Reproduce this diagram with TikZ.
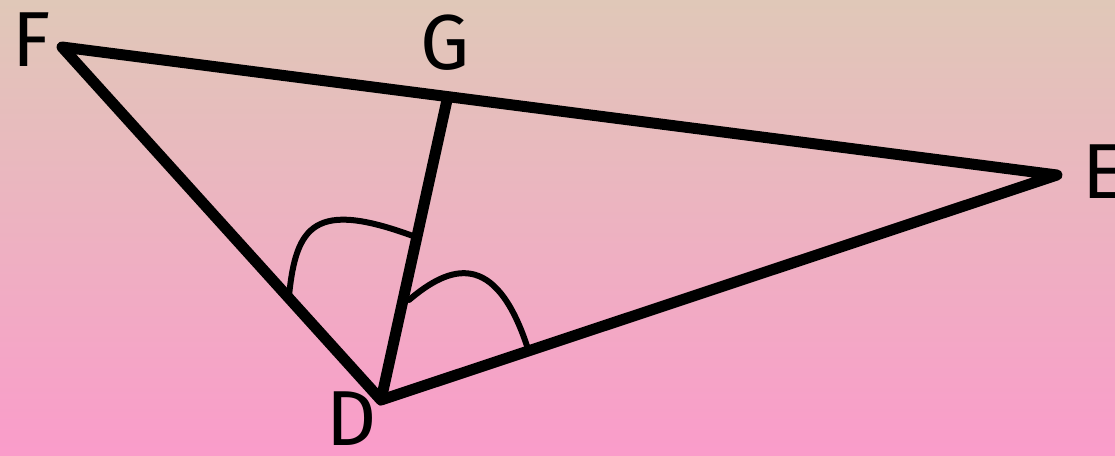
\documentclass[tikz,border=0pt]{standalone}
\usepackage{fontspec}
\setmainfont{Fira Sans}
\begin{document}
\begin{tikzpicture}[x=1pt,y=-1pt,
  side/.style={line width=11pt,line cap=round,line join=round},
  anglemark/.style={line width=6pt,line cap=round},
  lbl/.style={font=\fontsize{78}{78}\selectfont,inner sep=0pt,text=black}]
\clip (0,0) rectangle (1115,455);
\useasboundingbox (0,0) rectangle (1115,455);
\shade[top color={rgb,255:red,224;green,200;blue,184},bottom color={rgb,255:red,250;green,156;blue,202}] (0,0) rectangle (1115,455);
\coordinate (F) at (62,47);
\coordinate (E) at (1057,175);
\coordinate (D) at (381,400);
\coordinate (G) at (447,100);
\draw[side] (F) -- (E) -- (D) -- cycle;
\draw[side] (D) -- (G);
\coordinate (a1) at (289,296);
\coordinate (a2) at (413,236);
\coordinate (b1) at (409,300);
\coordinate (b2) at (527,346);
\draw[anglemark] (a1) .. controls (296,225) and (315,200) .. (a2);
\draw[anglemark] (b1) .. controls (450,265) and (495,250) .. (b2);
\node[lbl] (lF) at (32,40) {F};
\node[lbl] (lG) at (445,43) {G};
\node[lbl] (lE) at (1103,172) {E};
\node[lbl] (lD) at (352,419) {D};
\end{tikzpicture}
\end{document}
